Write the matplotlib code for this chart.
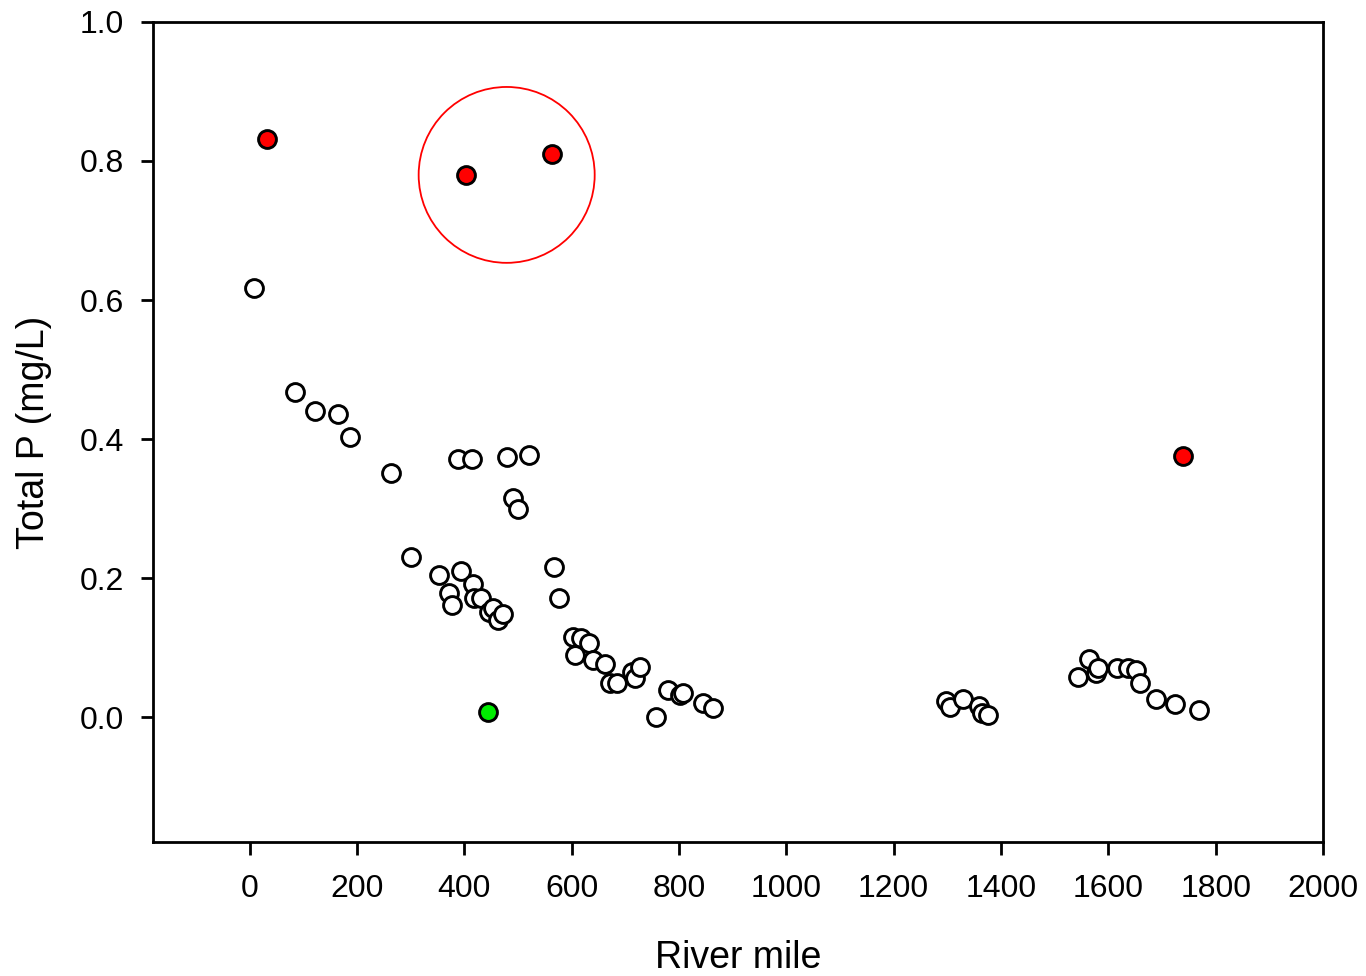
import matplotlib.pyplot as plt
from matplotlib.patches import Ellipse

plt.rcParams['font.family'] = ['Liberation Sans', 'DejaVu Sans']

# open circles (river mile, total P)
mile_open = [9, 84, 121, 164, 188, 263, 300, 352, 371, 378, 393, 416, 419, 432,
             447, 453, 462, 473, 388, 414, 479, 520, 490, 500, 568, 576,
             602, 618, 632, 607, 640, 662, 671, 684, 712, 718, 727, 758, 779,
             802, 807, 844, 863,
             1297, 1305, 1329, 1359, 1364, 1376,
             1543, 1564, 1578, 1581, 1616, 1637, 1651, 1659, 1689, 1724, 1769]
tp_open = [0.617, 0.468, 0.440, 0.436, 0.403, 0.351, 0.230, 0.204, 0.178, 0.162,
           0.210, 0.191, 0.171, 0.171, 0.151, 0.157, 0.140, 0.148, 0.371, 0.371,
           0.374, 0.377, 0.315, 0.299, 0.216, 0.171,
           0.115, 0.114, 0.106, 0.089, 0.082, 0.076, 0.049, 0.049, 0.065, 0.056,
           0.072, 0.000, 0.039, 0.032, 0.035, 0.020, 0.013,
           0.023, 0.014, 0.026, 0.016, 0.006, 0.003,
           0.058, 0.083, 0.063, 0.070, 0.070, 0.070, 0.068, 0.049, 0.026, 0.019, 0.010]

# red highlighted points
mile_red = [32, 403, 563, 1739]
tp_red = [0.832, 0.780, 0.810, 0.376]

# green point
mile_green = [445]
tp_green = [0.007]

fig = plt.figure(figsize=(13.66, 9.76), dpi=100)
ax = fig.add_axes([0.112, 0.137, 0.8565, 0.8405])

ax.scatter(mile_open, tp_open, s=165, facecolor='white', edgecolor='black', linewidth=2.1, zorder=3)
ax.scatter(mile_red, tp_red, s=165, facecolor='#ff0000', edgecolor='black', linewidth=2.1, zorder=3)
ax.scatter(mile_green, tp_green, s=165, facecolor='#00ee00', edgecolor='black', linewidth=2.1, zorder=3)

# circle around the two points
ax.add_patch(Ellipse((479, 0.780), 328, 0.253, fill=False, edgecolor='red', linewidth=1.3, zorder=2))

ax.set_xlim(-180, 2000)
ax.set_ylim(-0.18, 1.0)
ax.set_xticks(range(0, 2001, 200))
ax.set_yticks([0.0, 0.2, 0.4, 0.6, 0.8, 1.0])
ax.set_yticklabels(['0.0', '0.2', '0.4', '0.6', '0.8', '1.0'])
ax.tick_params(direction='out', length=9, width=2, labelsize=23, top=False, right=False)
ax.tick_params(axis='x', pad=14)
ax.tick_params(axis='y', pad=12)
for s in ax.spines.values():
    s.set_linewidth(2)

ax.set_xlabel('River mile', fontsize=27, labelpad=26)
ax.set_ylabel('Total P (mg/L)', fontsize=27, labelpad=20)

plt.savefig('out.png', dpi=100)
